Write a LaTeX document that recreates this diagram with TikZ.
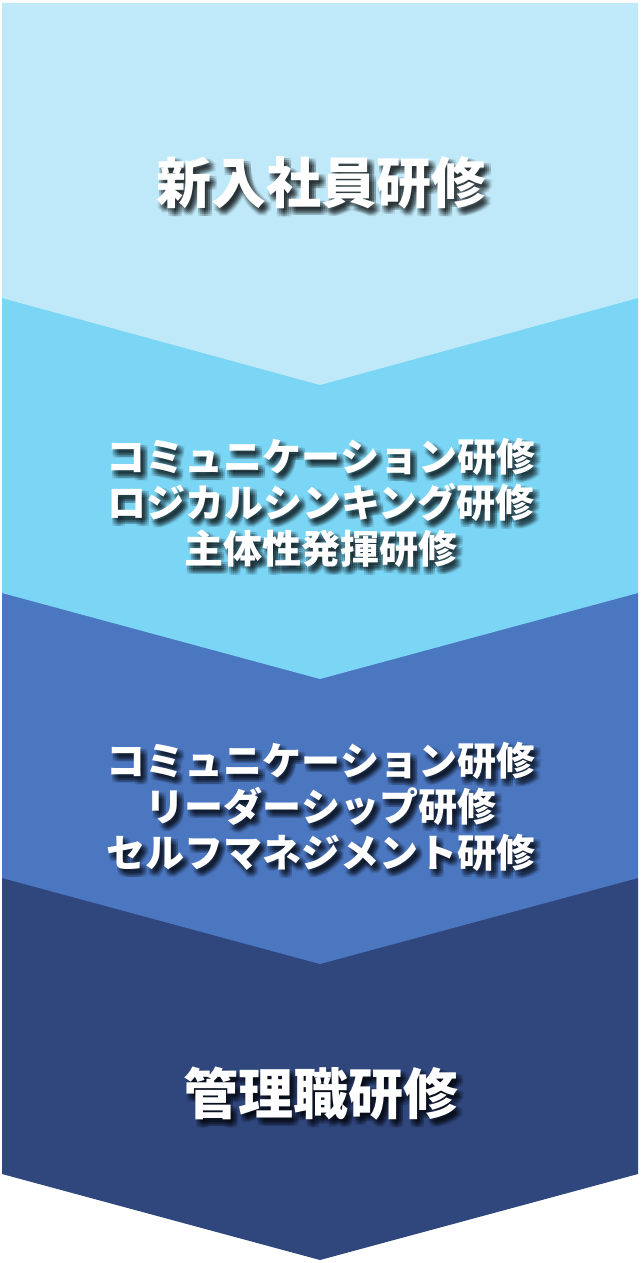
\documentclass[tikz,border=0pt]{standalone}
\usepackage{fontspec}
\newfontfamily\cjk{Noto Sans CJK JP}
\usetikzlibrary{calc}
\definecolor{secA}{RGB}{191,233,248}
\definecolor{secB}{RGB}{123,213,245}
\definecolor{secC}{RGB}{75,118,192}
\definecolor{secD}{RGB}{48,71,126}
\tikzset{
  lbl/.style={text=white, align=center, inner sep=0pt},
  shd/.style={text=black, opacity=0.09, align=center, inner sep=0pt},
  bigf/.style={font=\cjk\bfseries\fontsize{55}{60}\selectfont},
  midf/.style={font=\cjk\bfseries\fontsize{39}{46}\selectfont},
}
\newcommand\shadowlabel[4]{%
  \foreach \dx in {1,3,5,7}{\foreach \dy in {2,4,6,8}{%
    \node[shd,#3] at ($(#2)+(\dx,\dy)$) {#4};}}%
  \node[lbl,#3] (#1) at (#2) {#4};}
\begin{document}
\begin{tikzpicture}[x=1pt,y=-1pt]
\useasboundingbox (0,0) rectangle (640,1263);
\fill[white] (0,0) rectangle (640,1263);
\fill[secD] (2,878) -- (638,878) -- (638,1174) -- (320,1260) -- (2,1174) -- cycle;
\fill[secC] (2,593) -- (638,593) -- (638,878) -- (320,964) -- (2,878) -- cycle;
\fill[secB] (2,298) -- (638,298) -- (638,593) -- (320,679) -- (2,593) -- cycle;
\fill[secA] (2,3) -- (638,3) -- (638,298) -- (320,385) -- (2,298) -- cycle;
\coordinate (p1) at (321,183);
\coordinate (p2) at (321,503);
\coordinate (p3) at (321,807);
\coordinate (p4) at (321,1094);
\shadowlabel{t1}{p1}{bigf}{新入社員研修}
\shadowlabel{t2}{p2}{midf}{コミュニケーション研修\\ロジカルシンキング研修\\主体性発揮研修}
\shadowlabel{t3}{p3}{midf}{コミュニケーション研修\\リーダーシップ研修\\セルフマネジメント研修}
\shadowlabel{t4}{p4}{bigf}{管理職研修}
\end{tikzpicture}
\end{document}
